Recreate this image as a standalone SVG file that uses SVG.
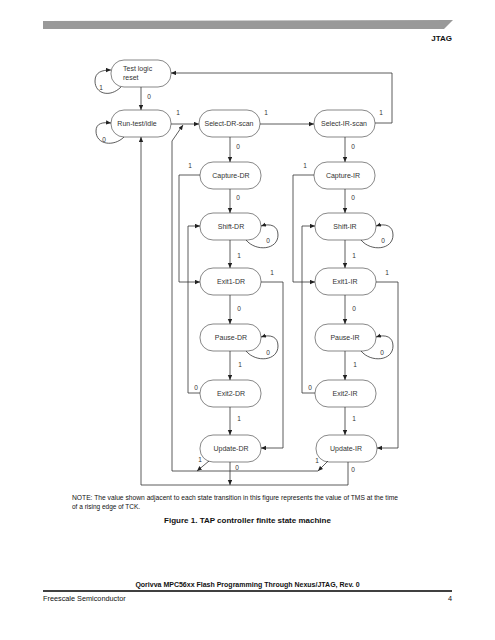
<svg xmlns="http://www.w3.org/2000/svg" width="495" height="640" viewBox="0 0 495 640">
<style>
.n rect{fill:#fff;stroke:#555;stroke-width:0.7}
.n text{font-family:"Liberation Sans",Arial,sans-serif;font-size:7px;fill:#333;text-anchor:middle}
.e path,.e line{fill:none;stroke:#333;stroke-width:0.8}
.a{marker-end:url(#ah)}
.l{font-family:"Liberation Sans",Arial,sans-serif;font-size:6.5px;fill:#333;text-anchor:middle}
.t{font-family:"Liberation Sans",Arial,sans-serif;fill:#111}
</style>
<defs>
<marker id="ah" markerUnits="userSpaceOnUse" markerWidth="6" markerHeight="5" refX="5" refY="2.2" orient="auto">
<path d="M0,0 L5,2.2 L0,4.4 Z" fill="#222"/>
</marker>
</defs>
<rect width="495" height="640" fill="#fff"/>
<!-- header -->
<polygon points="43,21 453,20 444,29 43,29" fill="#999"/>
<text class="t" x="452" y="41" font-size="8" font-weight="bold" text-anchor="end">JTAG</text>

<!-- nodes -->
<g id="tlr" class="n"><rect x="111" y="60" width="60" height="27" rx="13"/><text x="123" y="71" style="text-anchor:start">Test logic</text><text x="123" y="80" style="text-anchor:start">reset</text></g>
<g id="rti" class="n"><rect x="111" y="110" width="60" height="27" rx="13"/><text x="137" y="126">Run-test/idle</text></g>
<g id="sdr" class="n"><rect x="199" y="110" width="61" height="27" rx="13"/><text x="229" y="126">Select-DR-scan</text></g>
<g id="sir" class="n"><rect x="314" y="110" width="61" height="27" rx="13"/><text x="344" y="126">Select-IR-scan</text></g>
<g id="cdr" class="n"><rect x="200" y="162" width="61" height="27" rx="13"/><text x="231" y="178">Capture-DR</text></g>
<g id="cir" class="n"><rect x="314" y="162" width="61" height="27" rx="13"/><text x="343" y="178">Capture-IR</text></g>
<g id="shdr" class="n"><rect x="200" y="213" width="61" height="27" rx="13"/><text x="231" y="229">Shift-DR</text></g>
<g id="shir" class="n"><rect x="315" y="213" width="61" height="27" rx="13"/><text x="345" y="229">Shift-IR</text></g>
<g id="e1dr" class="n"><rect x="200" y="268" width="61" height="27" rx="13"/><text x="231" y="284">Exit1-DR</text></g>
<g id="e1ir" class="n"><rect x="315" y="268" width="61" height="27" rx="13"/><text x="345" y="284">Exit1-IR</text></g>
<g id="pdr" class="n"><rect x="200" y="324" width="61" height="27" rx="13"/><text x="231" y="340">Pause-DR</text></g>
<g id="pir" class="n"><rect x="315" y="324" width="61" height="27" rx="13"/><text x="345" y="340">Pause-IR</text></g>
<g id="e2dr" class="n"><rect x="200" y="380" width="61" height="27" rx="13"/><text x="231" y="396">Exit2-DR</text></g>
<g id="e2ir" class="n"><rect x="315" y="380" width="61" height="27" rx="13"/><text x="345" y="396">Exit2-IR</text></g>
<g id="udr" class="n"><rect x="200" y="435" width="61" height="27" rx="13"/><text x="231" y="451">Update-DR</text></g>
<g id="uir" class="n"><rect x="316" y="435" width="61" height="27" rx="13"/><text x="346" y="451">Update-IR</text></g>

<!-- connectors -->
<g id="edges" class="e">
<line class="a" x1="141" y1="87" x2="141" y2="110"/>
<path class="a" d="M121 87 C110 98 95 94 95 81 C95 72 102 70 111 70"/>
<path class="a" d="M124 137 C114 147 96 145 96 131 C96 123 103 122 111 123"/>
<line class="a" x1="171" y1="124" x2="199" y2="124"/>
<line class="a" x1="260" y1="124" x2="314" y2="124"/>
<path class="a" d="M375 123 H392 V73 H171"/>
<line class="a" x1="230" y1="137" x2="230" y2="162"/>
<line class="a" x1="345" y1="137" x2="345" y2="162"/>
<path class="a" d="M200 175 H179 V282 H200"/>
<path class="a" d="M314 175 H293 V282 H315"/>
<line class="a" x1="230" y1="189" x2="230" y2="213"/>
<line class="a" x1="345" y1="189" x2="345" y2="213"/>
<path class="a" d="M246 240 C256 252 278 250 278 235 C278 226 271 223 261 226"/>
<path class="a" d="M361 240 C371 252 393 250 393 235 C393 226 386 223 376 226"/>
<line class="a" x1="230" y1="240" x2="230" y2="268"/>
<line class="a" x1="345" y1="240" x2="345" y2="268"/>
<line class="a" x1="230" y1="295" x2="230" y2="324"/>
<line class="a" x1="345" y1="295" x2="345" y2="324"/>
<path class="a" d="M261 282 H283 V448 H261"/>
<path class="a" d="M376 282 H398 V448 H377"/>
<path class="a" d="M246 351 C256 363 278 361 278 346 C278 337 271 334 261 337"/>
<path class="a" d="M361 351 C371 363 393 361 393 346 C393 337 386 334 376 337"/>
<line class="a" x1="230" y1="351" x2="230" y2="380"/>
<line class="a" x1="345" y1="351" x2="345" y2="380"/>
<path class="a" d="M200 393 H188 V226 H200"/>
<path class="a" d="M315 393 H302 V226 H315"/>
<line class="a" x1="230" y1="407" x2="230" y2="435"/>
<line class="a" x1="345" y1="407" x2="345" y2="435"/>
<line class="a" x1="209" y1="461" x2="197" y2="471"/>
<line class="a" x1="328" y1="461" x2="318" y2="471"/>
<path class="a" d="M318 471 H172 V141 L183 125"/>
<line class="a" x1="230" y1="462" x2="230" y2="485"/>
<path class="a" d="M348 462 V485 H141 V137"/>
</g>

<!-- edge labels -->
<g id="labels">
<text class="l" x="149" y="99">0</text>
<text class="l" x="101" y="90">1</text>
<text class="l" x="104" y="142">0</text>
<text class="l" x="178" y="115">1</text>
<text class="l" x="266" y="115">1</text>
<text class="l" x="381" y="115">1</text>
<text class="l" x="238" y="149">0</text>
<text class="l" x="353" y="149">0</text>
<text class="l" x="190" y="168">1</text>
<text class="l" x="305" y="168">1</text>
<text class="l" x="238" y="200">0</text>
<text class="l" x="353" y="200">0</text>
<text class="l" x="268" y="243">0</text>
<text class="l" x="383" y="243">0</text>
<text class="l" x="239" y="258">1</text>
<text class="l" x="354" y="258">1</text>
<text class="l" x="272" y="275">1</text>
<text class="l" x="387" y="275">1</text>
<text class="l" x="239" y="311">0</text>
<text class="l" x="354" y="311">0</text>
<text class="l" x="268" y="355">0</text>
<text class="l" x="382" y="355">0</text>
<text class="l" x="240" y="367">1</text>
<text class="l" x="355" y="367">1</text>
<text class="l" x="196" y="390">0</text>
<text class="l" x="310" y="390">0</text>
<text class="l" x="239" y="421">1</text>
<text class="l" x="354" y="421">1</text>
<text class="l" x="200" y="462">1</text>
<text class="l" x="317" y="463">1</text>
<text class="l" x="237" y="470">0</text>
<text class="l" x="353" y="472">0</text>
</g>

<!-- notes / footer -->
<text class="t" x="72" y="500" font-size="6.5" fill="#333" textLength="326" lengthAdjust="spacingAndGlyphs">NOTE: The value shown adjacent to each state transition in this figure represents the value of TMS at the time</text>
<text class="t" x="72" y="509" font-size="6.5" fill="#333">of a rising edge of TCK.</text>
<text class="t" x="247.5" y="523" font-size="8" font-weight="bold" text-anchor="middle">Figure 1. TAP controller finite state machine</text>
<text class="t" x="247.5" y="587" font-size="7" font-weight="bold" text-anchor="middle">Qorivva MPC56xx Flash Programming Through Nexus/JTAG, Rev. 0</text>
<line x1="43" y1="591" x2="452" y2="591" stroke="#000" stroke-width="1.3"/>
<text class="t" x="43" y="601" font-size="7.3">Freescale Semiconductor</text>
<text class="t" x="452" y="601" font-size="7.3" text-anchor="end">4</text>
</svg>
